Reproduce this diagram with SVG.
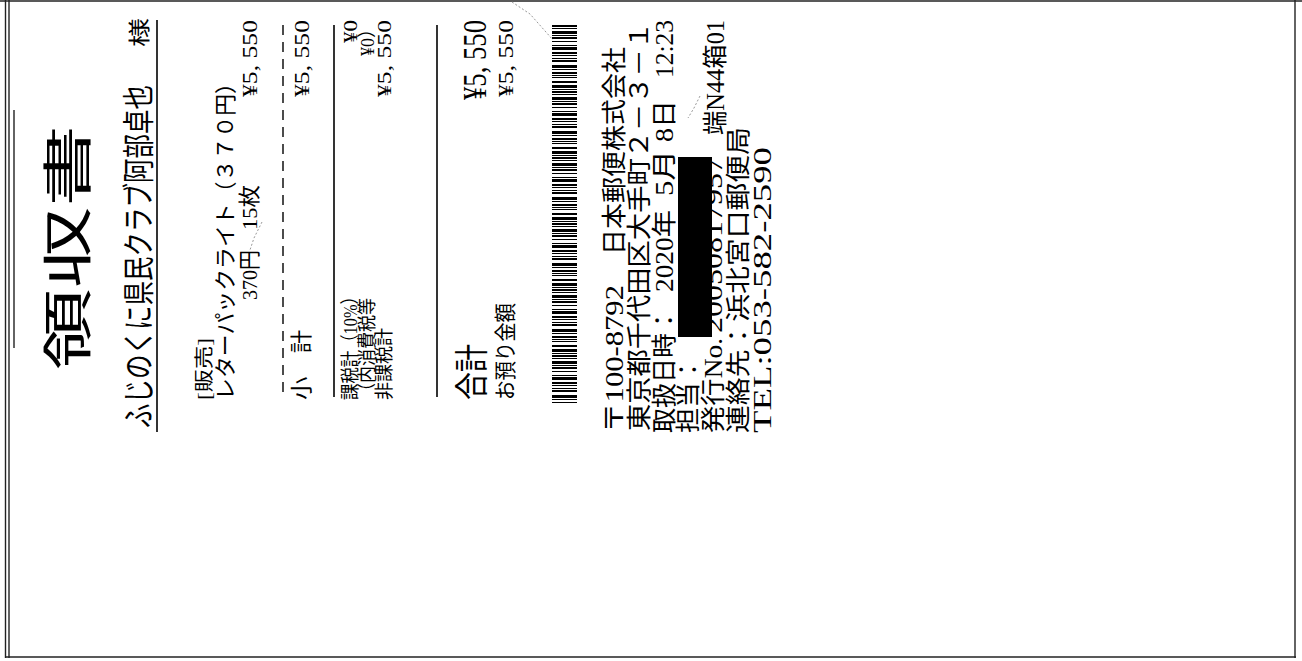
<svg xmlns="http://www.w3.org/2000/svg" width="1302" height="661" viewBox="0 0 1302 661">
<style>
.t{font-family:"Liberation Serif","Noto Sans CJK JP",serif;font-size:22px;fill:#000}
.s{font-size:19px}
.b{font-size:34px}
.f{font-size:25px}
.h{font-family:"Noto Sans CJK JP",sans-serif;font-size:32px;fill:#000}
.ttl{font-family:"Noto Sans CJK JP",sans-serif;font-size:50px;fill:#000}
.rule{stroke:#000;stroke-width:1.6;fill:none}
.dash{stroke:#000;stroke-width:1.4;stroke-dasharray:10 7;fill:none}
.frame{stroke:#222;stroke-width:1.4;fill:none}
.mark{stroke:#999;stroke-width:1;stroke-dasharray:2 2;fill:none}
</style>
<defs>
<path id="bc" d="M0 0h25v2h-25z m0 3h25v1h-25z m0 3h25v3h-25z m0 4h25v1h-25z m0 2h25v2h-25z m0 4h25v1h-25z m0 4h25v1h-25z m0 2h25v3h-25z m0 5h25v2h-25z m0 3h25v1h-25z m0 3h25v1h-25z m0 2h25v2h-25z m0 5h25v3h-25z m0 4h25v1h-25z m0 3h25v2h-25z m0 3h25v1h-25z m0 2h25v1h-25z m0 4h25v2h-25z m0 4h25v3h-25z m0 4h25v1h-25z"/>
<clipPath id="bcc"><rect x="550" y="25" width="30" height="378"/></clipPath>
</defs>
<rect width="1302" height="661" fill="#fff"/>
<g id="frame">
<line class="frame" x1="0" y1="1" x2="1302" y2="1" stroke="#888"/>
<line class="frame" x1="5.5" y1="0" x2="5.5" y2="658"/>
<line class="frame" x1="9" y1="0" x2="9" y2="658"/>
<line class="frame" x1="14" y1="110" x2="14" y2="348"/>
<line class="frame" x1="5" y1="657" x2="1296" y2="657"/>
<line class="frame" x1="1295" y1="0" x2="1295" y2="658"/>
</g>
<g id="header">
<text class="ttl" transform="translate(86,370) rotate(-90)" textLength="245" lengthAdjust="spacingAndGlyphs">領収書</text>
<text class="h" transform="translate(150,428) rotate(-90)" textLength="343" lengthAdjust="spacingAndGlyphs">ふじのくに県民クラブ阿部卓也</text>
<line class="rule" x1="157" y1="20" x2="157" y2="432"/>
<text class="t" transform="translate(147,47) rotate(-90)" textLength="29" lengthAdjust="spacingAndGlyphs">様</text>
</g>
<g id="sale">
<text class="t s" transform="translate(211,400) rotate(-90)" textLength="62" lengthAdjust="spacingAndGlyphs">[販売]</text>
<text class="t" transform="translate(233,400) rotate(-90)" textLength="328" lengthAdjust="spacingAndGlyphs">レターパックライト（３７０円）</text>
<text class="t" transform="translate(257,300) rotate(-90)" textLength="50" lengthAdjust="spacingAndGlyphs">370円</text>
<text class="t" transform="translate(257,230) rotate(-90)" textLength="45" lengthAdjust="spacingAndGlyphs">15枚</text>
<text class="t" transform="translate(257,97) rotate(-90)" textLength="77" lengthAdjust="spacingAndGlyphs">¥5, 550</text>
</g>
<g id="subtotal">
<line class="dash" x1="283" y1="25" x2="283" y2="397"/>
<text class="t" transform="translate(309,400) rotate(-90)" textLength="70" lengthAdjust="spacingAndGlyphs">小　計</text>
<text class="t" transform="translate(309,97) rotate(-90)" textLength="77" lengthAdjust="spacingAndGlyphs">¥5, 550</text>
<line class="rule" x1="334" y1="25" x2="334" y2="397"/>
</g>
<g id="tax">
<text class="t s" transform="translate(357,400) rotate(-90)" textLength="112" lengthAdjust="spacingAndGlyphs">課税計（10%）</text>
<text class="t s" transform="translate(357,43) rotate(-90)" textLength="23" lengthAdjust="spacingAndGlyphs">¥0</text>
<text class="t s" transform="translate(374,400) rotate(-90)" textLength="102" lengthAdjust="spacingAndGlyphs">（内消費税等</text>
<text class="t s" transform="translate(374,56) rotate(-90)" textLength="36" lengthAdjust="spacingAndGlyphs">¥0）</text>
<text class="t s" transform="translate(391,400) rotate(-90)" textLength="72" lengthAdjust="spacingAndGlyphs">非課税計</text>
<text class="t s" transform="translate(391,97) rotate(-90)" textLength="77" lengthAdjust="spacingAndGlyphs">¥5, 550</text>
<line class="rule" x1="437" y1="25" x2="437" y2="397"/>
</g>
<g id="total">
<text class="t b" transform="translate(484,400) rotate(-90)" textLength="56" lengthAdjust="spacingAndGlyphs">合計</text>
<text class="t b" transform="translate(486,100) rotate(-90)" textLength="80" lengthAdjust="spacingAndGlyphs">¥5, 550</text>
<text class="t" transform="translate(513,400) rotate(-90)" textLength="97" lengthAdjust="spacingAndGlyphs">お預り金額</text>
<text class="t" transform="translate(513,97) rotate(-90)" textLength="77" lengthAdjust="spacingAndGlyphs">¥5, 550</text>
</g>
<g id="barcode" clip-path="url(#bcc)">
<use href="#bc" x="552" y="25"/>
<use href="#bc" x="552" y="91"/>
<use href="#bc" x="552" y="157"/>
<use href="#bc" x="552" y="223"/>
<use href="#bc" x="552" y="289"/>
<use href="#bc" x="552" y="355"/>
</g>
<g id="footer">
<text class="t f" transform="translate(623,433) rotate(-90)" textLength="148" lengthAdjust="spacingAndGlyphs">〒100-8792</text>
<text class="t f" transform="translate(623,255) rotate(-90)" textLength="208" lengthAdjust="spacingAndGlyphs">日本郵便株式会社</text>
<text class="t f" transform="translate(648,431) rotate(-90)" textLength="409" lengthAdjust="spacingAndGlyphs">東京都千代田区大手町２－３－１</text>
<text class="t f" transform="translate(673,433) rotate(-90)" textLength="125" lengthAdjust="spacingAndGlyphs">取扱日時：</text>
<text class="t f" transform="translate(673,292) rotate(-90)" textLength="82" lengthAdjust="spacingAndGlyphs">2020年</text>
<text class="t f" transform="translate(673,196) rotate(-90)" textLength="46" lengthAdjust="spacingAndGlyphs">5月</text>
<text class="t f" transform="translate(673,142) rotate(-90)" textLength="42" lengthAdjust="spacingAndGlyphs">8日</text>
<text class="t f" transform="translate(673,78) rotate(-90)" textLength="58" lengthAdjust="spacingAndGlyphs">12:23</text>
<text class="t f" transform="translate(697,433) rotate(-90)" textLength="76" lengthAdjust="spacingAndGlyphs">担当：</text>
<text class="t f" transform="translate(722,433) rotate(-90)" textLength="95" lengthAdjust="spacingAndGlyphs">発行No.</text>
<text class="t f" transform="translate(722,333) rotate(-90)" textLength="176" lengthAdjust="spacingAndGlyphs">20050817957</text>
<text class="t f" transform="translate(724,135) rotate(-90)" textLength="115" lengthAdjust="spacingAndGlyphs">端N44箱01</text>
<text class="t f" transform="translate(747,433) rotate(-90)" textLength="306" lengthAdjust="spacingAndGlyphs">連絡先：浜北宮口郵便局</text>
<text class="t f" transform="translate(771,433) rotate(-90)" textLength="286" lengthAdjust="spacingAndGlyphs">TEL:053-582-2590</text>
<rect x="678" y="157" width="34" height="180" fill="#000"/>
</g>
<g id="marks">
<path class="mark" d="M512 2 L530 14 L553 40"/>
<path class="mark" d="M262 222 L254 238 L250 250"/>
<path class="mark" d="M700 96 L694 108 L688 118"/>
</g>
</svg>
